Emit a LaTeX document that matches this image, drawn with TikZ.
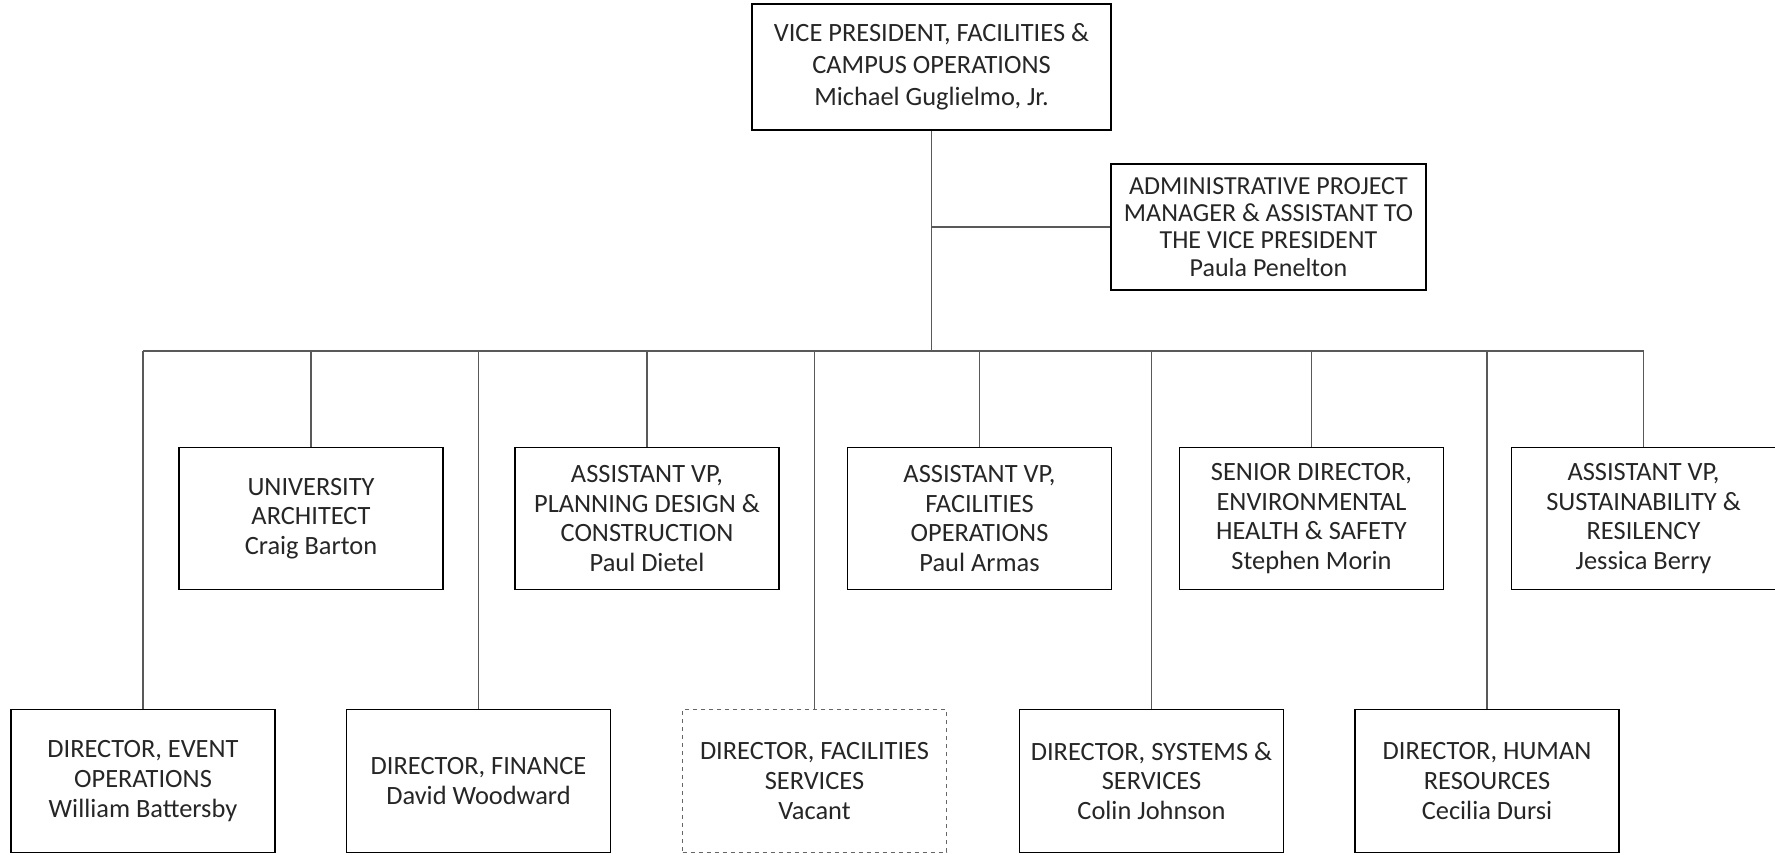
\documentclass[tikz,border=0pt]{standalone}
\usepackage{fontspec}
\setmainfont{Carlito}
\begin{document}
\begin{tikzpicture}[x=0.75pt,y=-0.75pt,
  box/.style={draw=black, line width=0.8pt, fill=white, text=black!85, align=center,
    minimum width=198pt, minimum height=107pt, inner sep=2pt,
    font=\fontsize{19.8pt}{22.3pt}\selectfont},
  topbox/.style={box, line width=1.4pt, minimum height=94.5pt},
  vacant/.style={box, draw=black!60, dashed, line width=0.8pt},
  conn/.style={draw=black!65, line width=0.8pt}]
\useasboundingbox (0,0) rectangle (1775,854);
\clip (0,0) rectangle (1775,854);
\fill[white] (0,0) rectangle (1775,854);

\node[topbox, minimum width=269pt, font=\fontsize{19.8pt}{23.9pt}\selectfont] (vp) at (931.5,67) {VICE PRESIDENT, FACILITIES \&\\CAMPUS OPERATIONS\\Michael Guglielmo, Jr.};
\node[topbox, minimum width=236pt, font=\fontsize{19.5pt}{20.4pt}\selectfont] (admin) at (1268.5,227) {ADMINISTRATIVE PROJECT\\MANAGER \& ASSISTANT TO\\THE VICE PRESIDENT\\Paula Penelton};

\node[box] (ua)  at (311,518.5)   {UNIVERSITY\\ARCHITECT\\Craig Barton};
\node[box] (pd)  at (647,518.5)   {ASSISTANT VP,\\PLANNING DESIGN \&\\CONSTRUCTION\\Paul Dietel};
\node[box] (fo)  at (979.5,518.5) {ASSISTANT VP,\\FACILITIES\\OPERATIONS\\Paul Armas};
\node[box] (ehs) at (1311.5,518.5){SENIOR DIRECTOR,\\ENVIRONMENTAL\\HEALTH \& SAFETY\\Stephen Morin};
\node[box] (sus) at (1643.5,518.5){ASSISTANT VP,\\SUSTAINABILITY \&\\RESILENCY\\Jessica Berry};

\node[box] (eo)  at (143,781)    {DIRECTOR, EVENT\\OPERATIONS\\William Battersby};
\node[box] (fin) at (478.5,781)  {DIRECTOR, FINANCE\\David Woodward};
\node[vacant] (fs) at (814.5,781) {DIRECTOR, FACILITIES\\SERVICES\\Vacant};
\node[box] (sys) at (1151.5,781) {DIRECTOR, SYSTEMS \&\\SERVICES\\Colin Johnson};
\node[box] (hr)  at (1487,781)   {DIRECTOR, HUMAN\\RESOURCES\\Cecilia Dursi};

\coordinate (bus) at (931.5,351);
\draw[conn] (vp.south) -- (bus);
\draw[conn] (admin.west) -- (admin.west -| vp.south);
\draw[conn] (eo.north |- bus) -- (sus.north |- bus);
\foreach \n in {ua,pd,fo,ehs,sus,eo,fin,fs,sys,hr}
  \draw[conn] (\n.north) -- (\n.north |- bus);
\end{tikzpicture}
\end{document}
